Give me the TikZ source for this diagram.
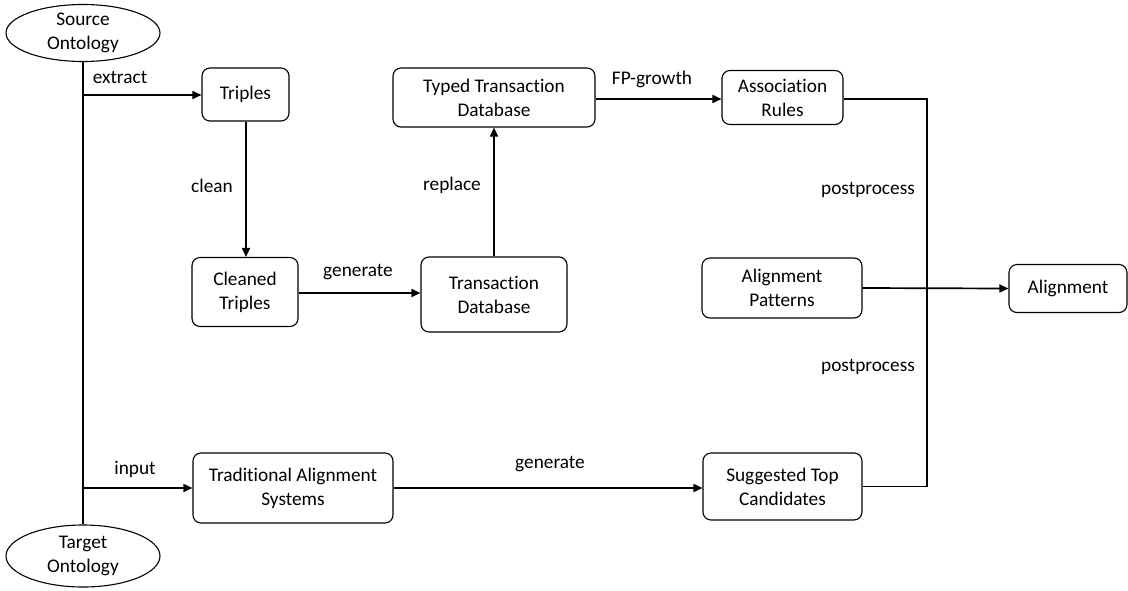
\documentclass[tikz,border=0pt]{standalone}
\usepackage{fontspec}
\setmainfont{Carlito}[Ligatures={NoCommon,NoContextual}]
\usetikzlibrary{arrows.meta,shapes.geometric}
\begin{document}
\begin{tikzpicture}[x=1pt,y=-1pt,
  every node/.style={font=\fontsize{19.3}{24}\selectfont, inner sep=0pt},
  box/.style={draw, rounded corners=8pt, line width=1.1pt, align=center},
  onto/.style={draw, ellipse, line width=1.1pt, align=center},
  wire/.style={line width=1.7pt},
  arr/.style={wire, -{Triangle[length=9pt,width=8pt]}},
  lbl/.style={anchor=center}]
  \useasboundingbox (0,0) rectangle (1128,590);

  % ontologies
  \node[onto, minimum width=154, minimum height=57] (src) at (83,33) {Source\\Ontology};
  \node[onto, minimum width=154, minimum height=62] (tgt) at (83,556) {Target\\Ontology};

  % processing boxes
  \node[box, minimum width=87,  minimum height=53] (tri)  at (245.5,94.5) {Triples};
  \node[box, minimum width=106, minimum height=69] (ctri) at (245,292)    {Cleaned\\Triples};
  \node[box, minimum width=146, minimum height=75] (tdb)  at (494,294.5)  {Transaction\\Database};
  \node[box, minimum width=202, minimum height=59] (ttdb) at (494,97.5)   {Typed Transaction\\Database};
  \node[box, minimum width=121, minimum height=54] (ar)   at (782.5,97.5) {Association\\Rules};
  \node[box, minimum width=160, minimum height=60] (ap)   at (782,288)    {Alignment\\Patterns};
  \node[box, minimum width=118, minimum height=48] (al)   at (1068,288.5) {Alignment};
  \node[box, minimum width=200, minimum height=70] (tas)  at (293,488)    {Traditional Alignment\\Systems};
  \node[box, minimum width=159, minimum height=67] (stc)  at (782.5,486.5) {Suggested Top\\Candidates};

  % ontology spine and its branches
  \coordinate (jx) at (83,95);
  \coordinate (jin) at (83,488);
  \draw[wire] (src.south) -- (tgt.north);
  \draw[arr] (jx) -- (tri.west |- jx);
  \draw[arr] (jin) -- (tas.west |- jin);
  \node[lbl] (lx) at (120,77) {extract};
  \node[lbl] (li) at (135,469) {input};

  % mining pipeline
  \draw[arr] (tri.south -| 246,0) -- (ctri.north -| 246,0);
  \node[lbl] (lc) at (212,186) {clean};
  \draw[arr] (ctri.east |- 0,293) -- (tdb.west |- 0,293);
  \node[lbl] (lg1) at (358,272) {generate};
  \draw[arr] (tdb.north) -- (ttdb.south);
  \node[lbl] (lr) at (452,185) {replace};
  \draw[arr] (ttdb.east |- 0,99) -- (ar.west |- 0,99);
  \node[lbl] (lf) at (652,79) {FP-growth};

  % candidates
  \draw[arr] (tas.east |- 0,488) -- (stc.west |- 0,488);
  \node[lbl] (lg2) at (550,464) {generate};

  % post-processing into the alignment
  \coordinate (bus) at (927,288);
  \draw[wire] (ar.east |- 0,99) -| (bus) |- (stc.east);
  \draw[arr] (ap.east) -- (al.west);
  \node[lbl] (lp1) at (868,190) {postprocess};
  \node[lbl] (lp2) at (868,367) {postprocess};
\end{tikzpicture}
\end{document}
